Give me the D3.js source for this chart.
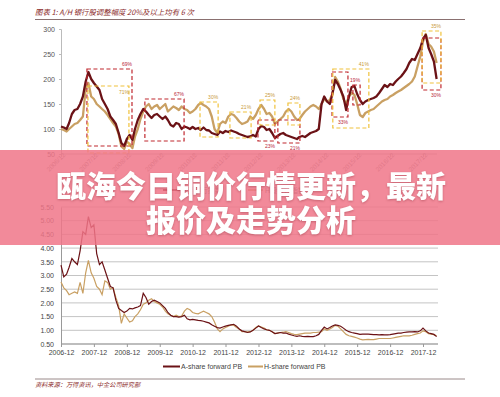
<!DOCTYPE html>
<html>
<head>
<meta charset="utf-8">
<script src="https://cdn.jsdelivr.net/npm/d3@7"></script>
<style>
  body { margin: 0; background: #fff; }
  text { font-family: Arial, "Liberation Sans", "Noto Sans CJK SC", sans-serif; }
</style>
</head>
<body>
<script>
// first month of every series, one value per month after it
const startMonth = "2006-12";

// top chart: bank index, rebased
const idxA = [105,103,100,112,130,138,140,150,165,195,
  214,200,192,185,178,160,150,140,125,118,
  110,92,72,66,80,88,78,100,118,130,
  140,135,128,122,128,130,125,120,125,118,
  108,105,112,110,100,105,103,100,104,100,
  102,98,103,98,97,92,90,88,95,92,
  96,94,97,95,93,90,88,86,84,85,
  88,85,100,106,104,98,100,92,82,86,
  90,92,88,86,84,82,80,84,86,84,
  88,92,94,96,100,150,165,155,150,170,
  198,190,178,165,138,165,184,186,170,158,
  150,155,158,160,162,165,172,180,188,184,
  190,188,195,200,205,212,220,232,240,238,
  250,262,280,288,262,250,235,200];
const idxH = [100,98,95,100,105,110,112,118,125,180,
  192,165,160,150,145,140,135,128,120,112,
  105,90,65,60,75,70,62,85,100,120,
  135,145,150,140,145,148,140,145,150,135,
  140,145,142,138,145,140,138,132,135,140,
  148,152,148,145,140,125,100,92,110,115,
  112,125,130,128,122,115,110,112,115,125,
  120,128,140,148,140,130,132,125,110,115,
  120,125,135,140,135,125,118,120,128,135,
  140,145,148,145,140,150,160,155,158,170,
  204,195,180,160,150,165,172,168,150,128,
  124,132,135,138,140,145,150,155,158,160,
  165,168,172,175,178,182,186,190,195,205,
  225,245,275,290,270,265,255,232];

// bottom chart: forward PB
const pbA = [3.38,2.95,3.05,3.3,3.62,3.5,3.4,3.9,4.6,4.5,
  5.15,4.75,4.85,3.8,3.4,3.5,3.2,2.9,2.6,2.55,
  2.1,1.8,1.72,1.65,1.7,1.8,1.78,1.82,1.85,1.9,
  2.35,2.2,1.95,2.05,2.1,2.05,2.0,1.9,1.8,1.65,
  1.55,1.5,1.5,1.48,1.5,1.55,1.42,1.38,1.4,1.38,
  1.36,1.35,1.33,1.3,1.27,1.2,1.15,1.1,1.08,1.12,
  1.15,1.18,1.2,1.22,1.15,1.05,0.98,0.95,0.92,0.94,
  1.0,1.08,1.16,1.1,1.05,1.02,1.0,0.95,0.88,0.9,
  0.92,0.9,0.9,0.86,0.83,0.8,0.78,0.8,0.78,0.77,
  0.78,0.77,0.77,0.8,0.85,1.0,1.12,1.05,1.1,1.16,
  1.2,1.18,1.15,1.08,1.0,0.95,0.92,0.9,0.88,0.85,
  0.86,0.86,0.86,0.85,0.84,0.84,0.83,0.84,0.83,0.83,
  0.84,0.86,0.88,0.9,0.9,0.92,0.93,0.94,0.94,0.95,
  0.94,0.98,1.08,0.98,0.9,0.88,0.85,0.77];
const pbH = [2.76,2.55,2.45,2.3,2.35,2.4,2.35,2.75,2.35,3.1,
  3.55,3.1,2.9,2.6,2.5,2.3,2.8,2.75,2.5,2.55,
  2.2,1.9,1.25,1.6,1.45,1.3,1.35,1.5,1.6,1.75,
  1.95,2.0,2.1,2.15,2.05,2.0,1.95,1.85,1.7,1.6,
  1.55,1.5,1.55,1.5,1.52,1.7,1.8,1.75,1.65,1.62,
  1.6,1.65,1.7,1.65,1.6,1.5,1.3,1.05,0.95,1.05,
  1.1,1.15,1.2,1.18,1.1,1.05,0.95,0.95,0.94,0.95,
  1.0,1.1,1.16,1.12,1.08,1.02,1.0,0.95,0.88,0.9,
  0.92,0.93,0.95,0.92,0.88,0.85,0.84,0.86,0.88,0.9,
  0.9,0.9,0.92,0.92,0.93,0.95,1.05,1.0,1.05,1.1,
  1.18,1.15,1.05,0.95,0.85,0.8,0.78,0.75,0.72,0.68,
  0.65,0.66,0.67,0.66,0.66,0.68,0.7,0.7,0.7,0.7,
  0.7,0.72,0.74,0.76,0.78,0.8,0.8,0.8,0.82,0.85,
  0.88,0.9,0.98,0.95,0.88,0.86,0.84,0.8];

const years = ["2006-12","2007-12","2008-12","2009-12","2010-12","2011-12",
  "2012-12","2013-12","2014-12","2015-12","2016-12","2017-12"];
const idxTicks = [50,100,150,200,250,300];
const pbTicks = [0.5,1,1.5,2,2.5,3,3.5,4,4.5,5,5.5];

// drawdown boxes: from, to, high, low, label, label side
const redBoxes = [
  ["2007-09-15","2009-01-27",220,66,"69%","top"],
  ["2009-06-19","2010-08-28",160,76,"67%","top"],
  ["2012-11-25","2013-06-01",118,76,"23%","bottom"],
  ["2013-07-04","2014-03-06",118,72,"21%","bottom"],
  ["2015-02-25","2015-08-21",214,124,"33%","bottom"],
  ["2015-10-15","2016-01-03",188,148,"19%","top"],
  ["2017-11-21","2018-06-18",282,178,"30%","bottom"]
];
const yellowBoxes = [
  ["2007-09-26","2008-12-24",186,52,"71%","inside"],
  ["2011-02-21","2011-09-10",154,84,"30%","top"],
  ["2012-01-19","2012-09-10",134,82,"21%","top"],
  ["2012-12-18","2013-06-01",158,108,"25%","top"],
  ["2013-10-24","2014-03-06",152,108,"24%","top"],
  ["2015-03-06","2016-04-09",220,102,"41%","top"],
  ["2017-11-21","2018-06-18",296,192,"35%","top"]
];

const colA = "#6b1216", colH = "#c9a063";
const red = "#c0282f", yellow = "#f0c23c";

let parseM = d3.timeParse("%Y-%m");
let parseD = d3.timeParse("%Y-%m-%d");
let months = idxA.map((v, i) => d3.timeMonth.offset(parseM(startMonth), i));

let svg = d3.select("body").append("svg")
  .attr("width", 500).attr("height", 397);

let x = d3.scaleTime()
  .domain([parseM("2006-12"), parseM("2017-12")])
  .range([61, 423]);

// header
svg.append("text").attr("x", 35).attr("y", 15)
  .attr("font-size", 7.4).attr("font-style", "italic").attr("fill", "#8b2a2a")
  .style("font-family", "'Noto Sans CJK SC', sans-serif")
  .text("图表 1: A/H 银行股调整幅度 20%及以上均有 6 次");
svg.append("line").attr("x1", 35).attr("x2", 465).attr("y1", 19.5).attr("y2", 19.5)
  .attr("stroke", "#8a7070").attr("stroke-width", 1);

// ---------- top chart ----------
let y1 = d3.scaleLinear().domain([50, 300]).range([154, 29]);

let gy1 = svg.append("g").attr("transform", "translate(61,0)")
  .call(d3.axisLeft(y1).tickValues(idxTicks).tickSize(2).tickPadding(4));
gy1.select(".domain").attr("stroke", "#bbb");
gy1.selectAll("line").attr("stroke", "#bbb");
gy1.selectAll("text").attr("font-size", 7).attr("fill", "#555");

let gx1 = svg.append("g").attr("transform", "translate(0,154)")
  .call(d3.axisBottom(x).tickValues(years.map(parseM)).tickSize(3)
    .tickFormat(d3.timeFormat("%Y/%m")));
gx1.select(".domain").attr("stroke", "#bbb").attr("d", "M61,0H437");
gx1.selectAll("line").attr("stroke", "#bbb");
gx1.selectAll("text").attr("font-size", 6.5).attr("fill", "#888")
  .attr("text-anchor", "end").attr("dy", 0).attr("y", 4)
  .attr("transform", "rotate(-45)").attr("x", 2);

let line1 = d3.line().x((d, i) => x(months[i])).y(d => y1(d));
svg.append("path").datum(idxH).attr("d", line1)
  .attr("fill", "none").attr("stroke", colH).attr("stroke-width", 2.3).attr("stroke-linejoin", "round");
svg.append("path").datum(idxA).attr("d", line1)
  .attr("fill", "none").attr("stroke", colA).attr("stroke-width", 2.3).attr("stroke-linejoin", "round");

function drawBoxes(boxes, color, labelColor) {
  let g = svg.append("g");
  g.selectAll("rect").data(boxes).join("rect")
    .attr("x", d => x(parseD(d[0])))
    .attr("width", d => x(parseD(d[1])) - x(parseD(d[0])))
    .attr("y", d => y1(d[2]))
    .attr("height", d => y1(d[3]) - y1(d[2]))
    .attr("fill", "none").attr("stroke", color).attr("stroke-width", 1.2)
    .attr("stroke-dasharray", "4,2.5");
  g.selectAll("text").data(boxes).join("text")
    .attr("x", d => x(parseD(d[1])) - 5)
    .attr("y", d => d[5] == "top" ? y1(d[2]) - 3 : d[5] == "inside" ? y1(d[2]) + 8 : y1(d[3]) + 7)
    .attr("text-anchor", "middle").attr("font-size", 5).attr("fill", labelColor)
    .text(d => d[4]);
}
drawBoxes(redBoxes, red, "#b8283a");
drawBoxes(yellowBoxes, yellow, "#c99a3a");

// top legend (mostly hidden under the banner)
svg.append("line").attr("x1", 163).attr("x2", 180).attr("y1", 190).attr("y2", 190)
  .attr("stroke", colA).attr("stroke-width", 2);
svg.append("text").attr("x", 182).attr("y", 192.5).attr("font-size", 7).attr("fill", "#555")
  .text("A股银行指数");
svg.append("line").attr("x1", 248).attr("x2", 263).attr("y1", 190).attr("y2", 190)
  .attr("stroke", colH).attr("stroke-width", 2);
svg.append("text").attr("x", 265).attr("y", 192.5).attr("font-size", 7).attr("fill", "#555")
  .text("H股银行指数");

// ---------- bottom chart ----------
let y2 = d3.scaleLinear().domain([0.5, 5.5]).range([344, 207]);

svg.append("g").selectAll("line").data(pbTicks).join("line")
  .attr("x1", 61).attr("x2", 438)
  .attr("y1", d => y2(d)).attr("y2", d => y2(d))
  .attr("stroke", "#c4c4c4").attr("stroke-width", 1);

let gy2 = svg.append("g").attr("transform", "translate(61,0)")
  .call(d3.axisLeft(y2).tickValues(pbTicks).tickSize(0).tickPadding(7)
    .tickFormat(d3.format(".2f")));
gy2.select(".domain").attr("stroke", "#999");
gy2.selectAll("text").attr("font-size", 7).attr("fill", "#444");

let gx2 = svg.append("g").attr("transform", "translate(0,344)")
  .call(d3.axisBottom(x).tickValues(years.map(parseM)).tickSize(3).tickPadding(3)
    .tickFormat(d3.timeFormat("%Y-%m")));
gx2.select(".domain").attr("stroke", "#999").attr("d", "M61,0H438");
gx2.selectAll("line").attr("stroke", "#999");
gx2.selectAll("text").attr("font-size", 7).attr("fill", "#444");

let line2 = d3.line().x((d, i) => x(months[i])).y(d => y2(d));
svg.append("path").datum(pbH).attr("d", line2)
  .attr("fill", "none").attr("stroke", colH).attr("stroke-width", 1.2);
svg.append("path").datum(pbA).attr("d", line2)
  .attr("fill", "none").attr("stroke", colA).attr("stroke-width", 1.2);

// legend
svg.append("line").attr("x1", 163).attr("x2", 180).attr("y1", 366.5).attr("y2", 366.5)
  .attr("stroke", colA).attr("stroke-width", 2);
svg.append("text").attr("x", 181).attr("y", 369).attr("font-size", 7).attr("fill", "#444")
  .text("A-share forward PB");
svg.append("line").attr("x1", 248).attr("x2", 263).attr("y1", 366.5).attr("y2", 366.5)
  .attr("stroke", colH).attr("stroke-width", 2);
svg.append("text").attr("x", 264).attr("y", 369).attr("font-size", 7).attr("fill", "#444")
  .text("H-share forward PB");

// footer
svg.append("line").attr("x1", 35).attr("x2", 465).attr("y1", 379).attr("y2", 379)
  .attr("stroke", "#9a8a8a").attr("stroke-width", 1);
svg.append("text").attr("x", 35).attr("y", 387)
  .attr("font-size", 6.2).attr("font-style", "italic").attr("fill", "#8b2a2a")
  .style("font-family", "'Noto Sans CJK SC', sans-serif")
  .text("资料来源：万得资讯，中金公司研究部");

// ---------- banner ----------
svg.append("rect").attr("x", 0).attr("y", 150).attr("width", 500).attr("height", 95)
  .attr("fill", "rgb(240,118,136)").attr("fill-opacity", 0.85);
let banner = svg.append("g")
  .style("filter", "drop-shadow(0px 1px 1px rgba(120,30,40,0.35))");
banner.selectAll("text").data(["瓯海今日铜价行情更新，最新", "报价及走势分析"]).join("text")
  .attr("x", 251).attr("y", (d, i) => 184 + i * 34)
  .attr("text-anchor", "middle").attr("dominant-baseline", "central")
  .attr("font-size", 30).attr("font-weight", 900).attr("fill", "#fff")
  .style("font-family", "'Noto Sans CJK SC', sans-serif")
  .text(d => d);
</script>
</body>
</html>
